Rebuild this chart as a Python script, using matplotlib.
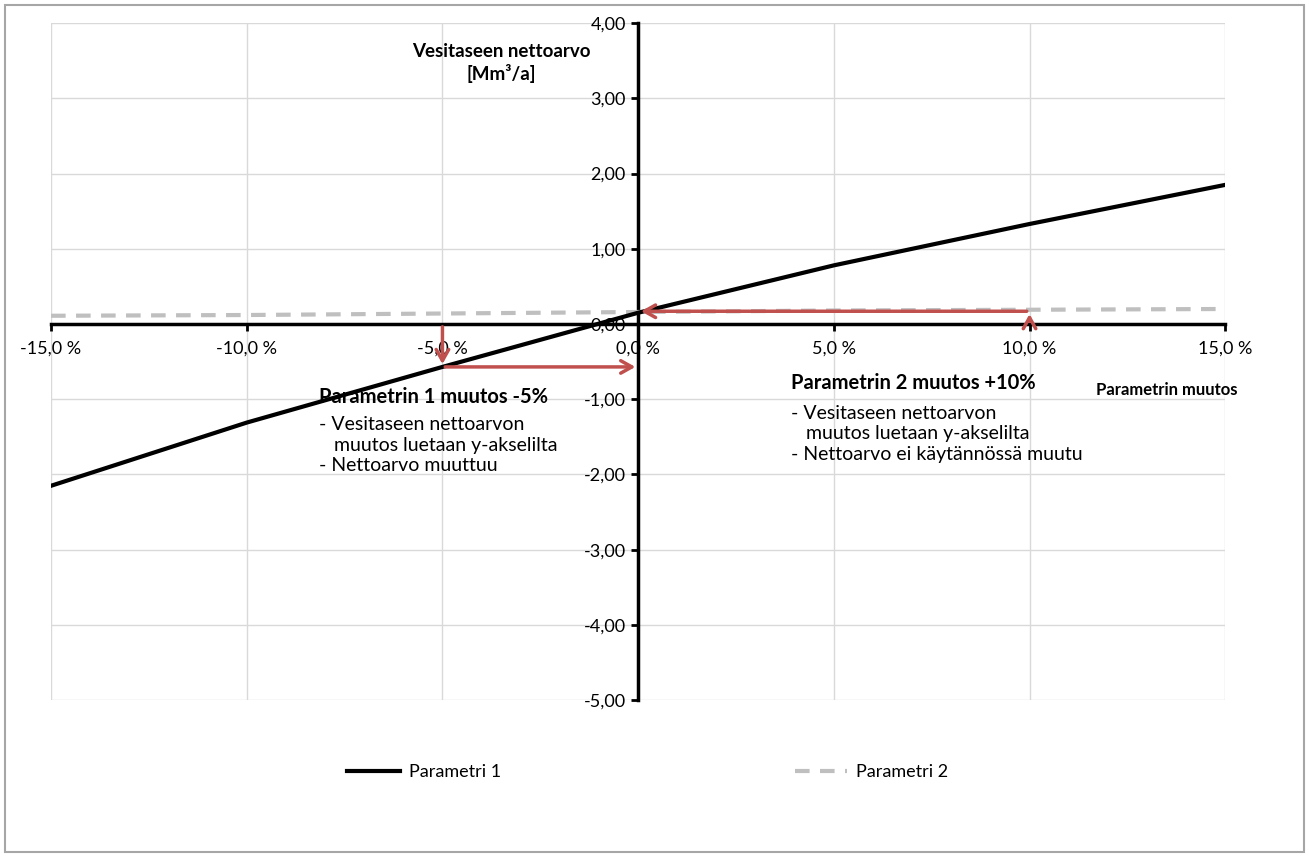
import matplotlib.pyplot as plt
from matplotlib.ticker import FuncFormatter, MultipleLocator
from matplotlib.patches import Rectangle

plt.rcParams['font.family'] = ['Lato', 'DejaVu Sans']

# parametrin muutos (%)
muutos = [-15.0, -10.0, -5.0, 0.0, 5.0, 10.0, 15.0]
# vesitaseen nettoarvo [Mm3/a]
param1 = [-2.15, -1.31, -0.57, 0.15, 0.78, 1.33, 1.85]
param2 = [0.11, 0.12, 0.14, 0.16, 0.18, 0.19, 0.20]

# esimerkit: muutos ja siita luettu nettoarvo
esim1_x, esim1_y = -5.0, -0.57
esim2_x, esim2_y = 10.0, 0.17

punainen = '#C0504D'

fig = plt.figure(figsize=(13.09, 8.57), dpi=100)
ax = fig.add_axes([0.039, 0.183, 0.897, 0.79])

ax.plot(muutos, param1, color='black', lw=3, label='Parametri 1', zorder=4)
ax.plot(muutos, param2, color='#BFBFBF', lw=3, ls=(0, (3.5, 2.5)), label='Parametri 2', zorder=3)

ax.set_xlim(-15, 15)
ax.set_ylim(-5, 4)
ax.xaxis.set_major_locator(MultipleLocator(5))
ax.yaxis.set_major_locator(MultipleLocator(1))
ax.xaxis.set_major_formatter(FuncFormatter(lambda v, p: ('%.1f %%' % v).replace('.', ',')))
ax.yaxis.set_major_formatter(FuncFormatter(lambda v, p: ('%.2f' % v).replace('.', ',')))

for s in ['top', 'right']:
    ax.spines[s].set_visible(False)
ax.spines['left'].set_position(('data', 0))
ax.spines['bottom'].set_position(('data', 0))
ax.spines['left'].set_linewidth(2.5)
ax.spines['bottom'].set_linewidth(2.5)
ax.tick_params(axis='both', direction='out', length=5, width=2, labelsize=13, colors='black')
ax.tick_params(axis='x', pad=7)
ax.tick_params(axis='y', pad=4)
ax.grid(True, color='#D9D9D9', lw=1)
ax.set_axisbelow(True)

# nuolet
arr = dict(arrowstyle='->,head_length=0.8,head_width=0.45', color=punainen, lw=2.5)
ax.annotate('', xy=(esim1_x, esim1_y), xytext=(esim1_x, 0), arrowprops=arr, zorder=5)
ax.annotate('', xy=(0, esim1_y), xytext=(esim1_x, esim1_y), arrowprops=arr, zorder=5)
ax.annotate('', xy=(esim2_x, esim2_y), xytext=(esim2_x, 0), arrowprops=arr, zorder=5)
ax.annotate('', xy=(0, esim2_y), xytext=(esim2_x, esim2_y), arrowprops=arr, zorder=5)

ax.text(-3.5, 3.47, 'Vesitaseen nettoarvo\n[Mm³/a]', ha='center', va='center',
        fontsize=13.5, fontweight='bold', linespacing=1.3)
ax.text(13.5, -0.88, 'Parametrin muutos', ha='center', va='center',
        fontsize=12, fontweight='bold')

ax.text(-8.15, -0.97, 'Parametrin 1 muutos -5%', fontsize=14.5, fontweight='bold', va='center')
ax.text(-8.15, -1.61, '- Vesitaseen nettoarvon\n   muutos luetaan y-akselilta\n- Nettoarvo muuttuu',
        fontsize=14, va='center', linespacing=1.25)
ax.text(3.9, -0.78, 'Parametrin 2 muutos +10%', fontsize=14.5, fontweight='bold', va='center')
ax.text(3.9, -1.46, '- Vesitaseen nettoarvon\n   muutos luetaan y-akselilta\n- Nettoarvo ei käytännössä muutu',
        fontsize=14, va='center', linespacing=1.25)

leg = fig.legend(loc='center', bbox_to_anchor=(0.495, 0.099), ncol=2, frameon=False,
                 fontsize=13, handlelength=2.9, handletextpad=0.5, columnspacing=16.3)

fig.patches.append(Rectangle((0.004, 0.006), 0.992, 0.988, transform=fig.transFigure,
                             fill=False, edgecolor='#A6A6A6', lw=1.5))

fig.savefig('out.png', dpi=100)
